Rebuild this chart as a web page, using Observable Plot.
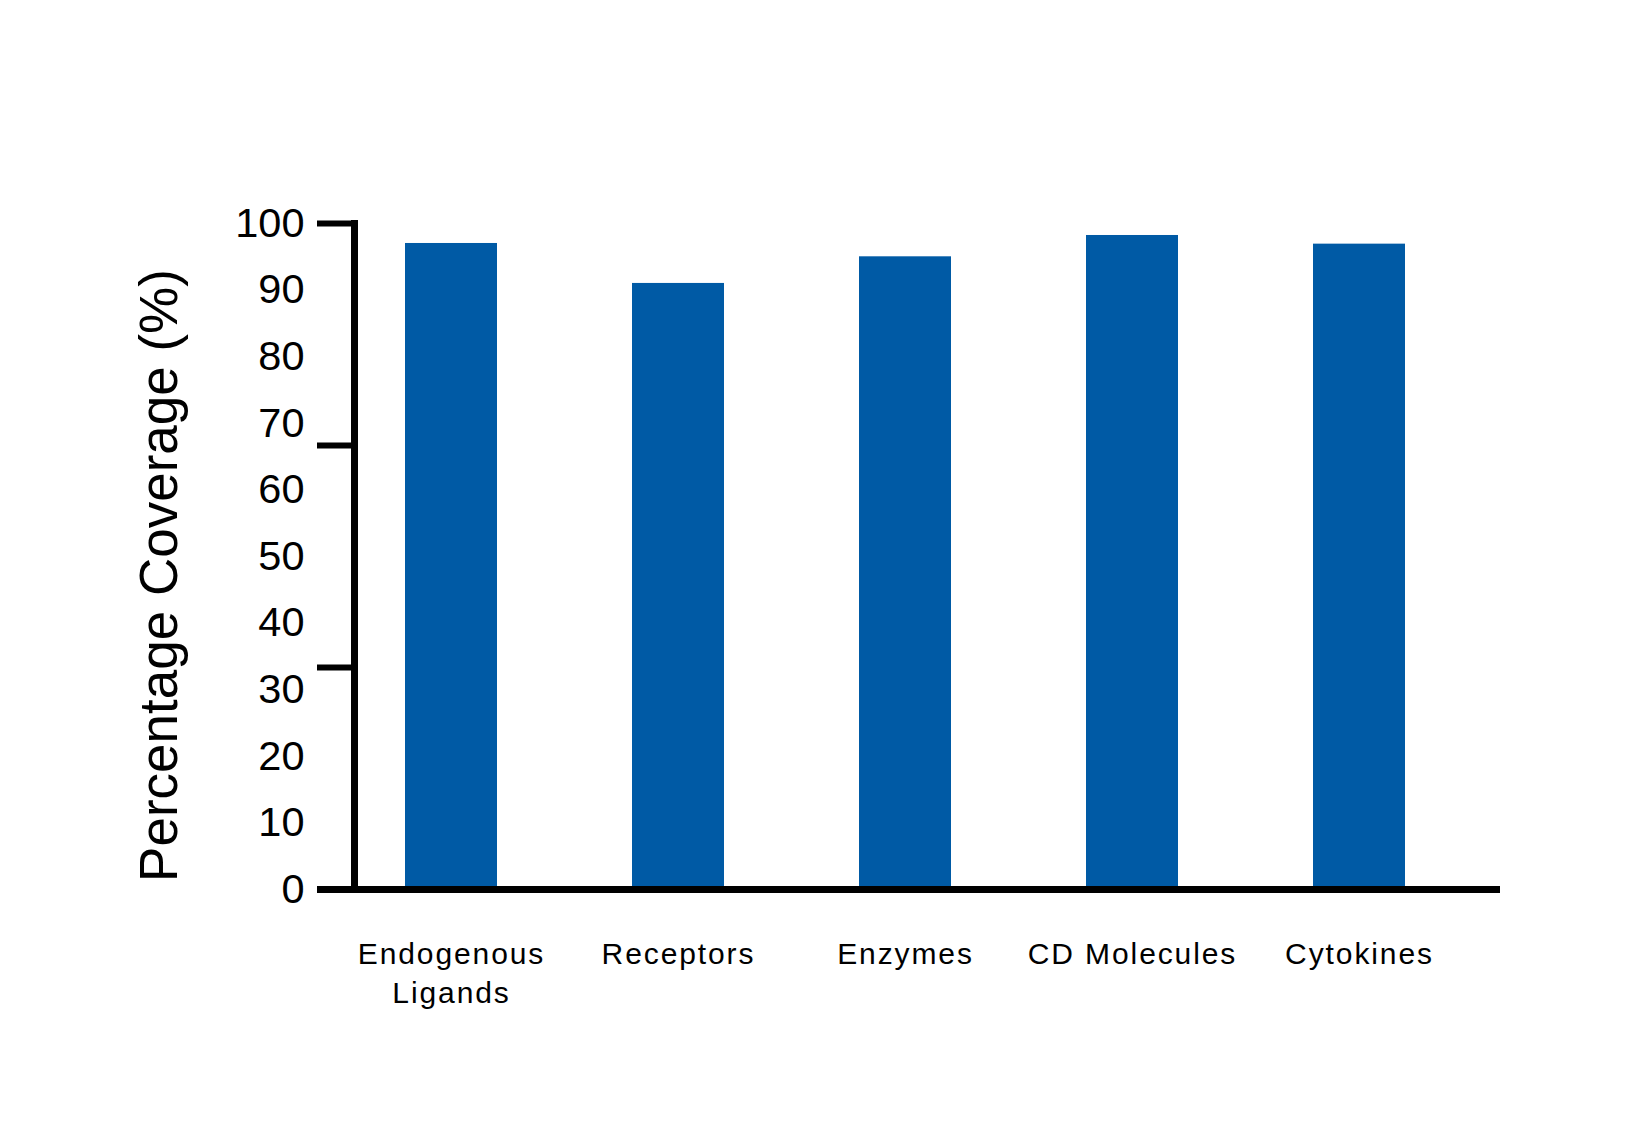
<!DOCTYPE html>
<html>
<head>
<meta charset="utf-8">
<script src="https://cdn.jsdelivr.net/npm/d3@7"></script>
<script src="https://cdn.jsdelivr.net/npm/@observablehq/plot@0.6"></script>
<style>
  html, body { margin: 0; padding: 0; background: #fff; }
  svg { display: block; font-family: "Liberation Sans", Arial, Helvetica, sans-serif; }
  g[aria-label="x-axis tick label"] { letter-spacing: 1.9px; }
</style>
</head>
<body>
<div id="chart"></div>
<script>
const categories = ["Endogenous\nLigands", "Receptors", "Enzymes", "CD Molecules", "Cytokines"];
const coverage = [97, 91, 95, 98.2, 96.9];
const yTickLabels = [0, 10, 20, 30, 40, 50, 60, 70, 80, 90, 100];
const yMajorTicks = [0, 100 / 3, 200 / 3, 100];
const yTitle = "Percentage Coverage (%)";

const data = categories.map((c, i) => ({category: c, value: coverage[i]}));

const chart = Plot.plot({
  width: 1645,
  height: 1145,
  marginLeft: 317,
  marginRight: 145,
  marginTop: 223,
  marginBottom: 256,
  style: {fontFamily: '"Liberation Sans", Arial, Helvetica, sans-serif', background: "#fff", color: "#000"},
  x: {domain: categories, paddingInner: 0.595, paddingOuter: 0.403, align: 0.48},
  y: {domain: [0, 100]},
  marks: [
    Plot.barY(data, {x: "category", y: "value", fill: "#005AA5"}),
    Plot.frame({anchor: "left", stroke: "#000", strokeWidth: 7, dx: 37}),
    Plot.ruleY([0], {stroke: "#000", strokeWidth: 7}),
    Plot.axisY({ticks: yMajorTicks, tickSize: 41, dx: 41, tickFormat: null, text: null, stroke: "#000", strokeWidth: 6, strokeOpacity: 1, label: null}),
    Plot.axisY({ticks: yTickLabels, tickSize: 0, tickPadding: 13, fontSize: 41.5, tickFormat: d => String(d), label: yTitle, labelAnchor: "center", labelArrow: false, labelOffset: 178, fill: "#000"}),
    Plot.axisX({tickSize: 0, tickPadding: 47, fontSize: 30, lineHeight: 1.3, label: null, fill: "#000"})
  ]
});
document.getElementById("chart").appendChild(chart);
// enlarge the y-axis title and nudge it down slightly
chart.querySelectorAll('g[aria-label="y-axis label"] text').forEach(t => {
  t.setAttribute("font-size", 53);
  t.setAttribute("dx", -19);
});
</script>
</body>
</html>
